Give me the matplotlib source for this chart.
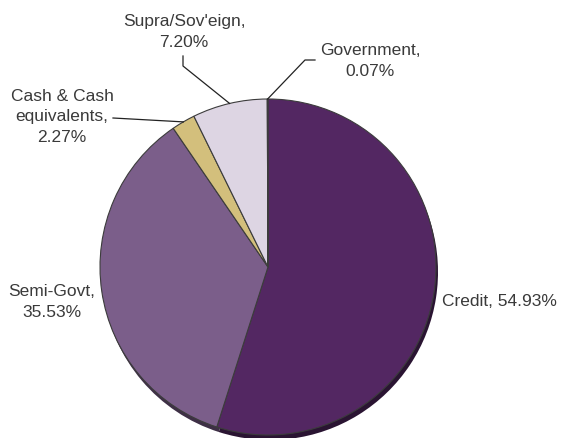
import matplotlib.pyplot as plt
import numpy as np

plt.rcParams['font.family'] = ['Liberation Sans', 'DejaVu Sans']

# sector allocation (clockwise from 12 o'clock)
labels = ['Credit', 'Semi-Govt', 'Cash & Cash\nequivalents', 'Supra/Sov\'eign', 'Government']
shares = [54.93, 35.53, 2.27, 7.20, 0.07]
colors = ['#532762', '#7b5e8a', '#d3bf7c', '#ddd5e3', '#6a4a78']
dark_colors = ['#2a1432', '#3e2f46', '#6a603e', '#6f6b72', '#35253c']

# label text positions (pixels, y down) and leader-line elbows
label_pos = [(442, 302), (52, 302), (62, 117), (184, 32), (370, 61)]
text_ha = ['left', 'center', 'center', 'center', 'center']
label_sep = [' ', '\n', '\n', '\n', '\n']
leader_elbow = [None, None, [(113, 119)], [(183, 57), (183, 67)], [(315, 61), (305, 61)]]

W, H = 562, 439
cx, cy, r = 268, 268, 168

fig = plt.figure(figsize=(W / 100, H / 100), dpi=100)
ax = fig.add_axes([0, 0, 1, 1])

# bottom "depth" edge of the pie
ax.pie(shares, colors=dark_colors, startangle=90, counterclock=False,
       center=(cx + 2, H - cy - 5), radius=r,
       wedgeprops=dict(linewidth=0))
ax.pie(shares, colors=colors, startangle=90, counterclock=False,
       center=(cx, H - cy), radius=r,
       wedgeprops=dict(edgecolor='#3c3c3c', linewidth=0.8))

text_color = '#3a3a3a'
start = 90.0
for lab, val, pos, ha, sep, elbow in zip(labels, shares, label_pos, text_ha, label_sep, leader_elbow):
    sweep = val / 100 * 360
    mid = np.deg2rad(start - sweep / 2)
    start -= sweep
    ax.text(pos[0], H - pos[1], f'{lab},{sep}{val:.2f}%',
            ha=ha, va='center', fontsize=12.5, color=text_color, linespacing=1.45)
    if elbow:
        ex = cx + r * np.cos(mid)
        ey = cy - r * np.sin(mid)
        pts = elbow + [(ex, ey)]
        ax.plot([p[0] for p in pts], [H - p[1] for p in pts],
                color='#222222', linewidth=0.9)

ax.set_xlim(0, W)
ax.set_ylim(0, H)
ax.set_aspect('equal')
ax.axis('off')

fig.savefig('out.png', dpi=100)
